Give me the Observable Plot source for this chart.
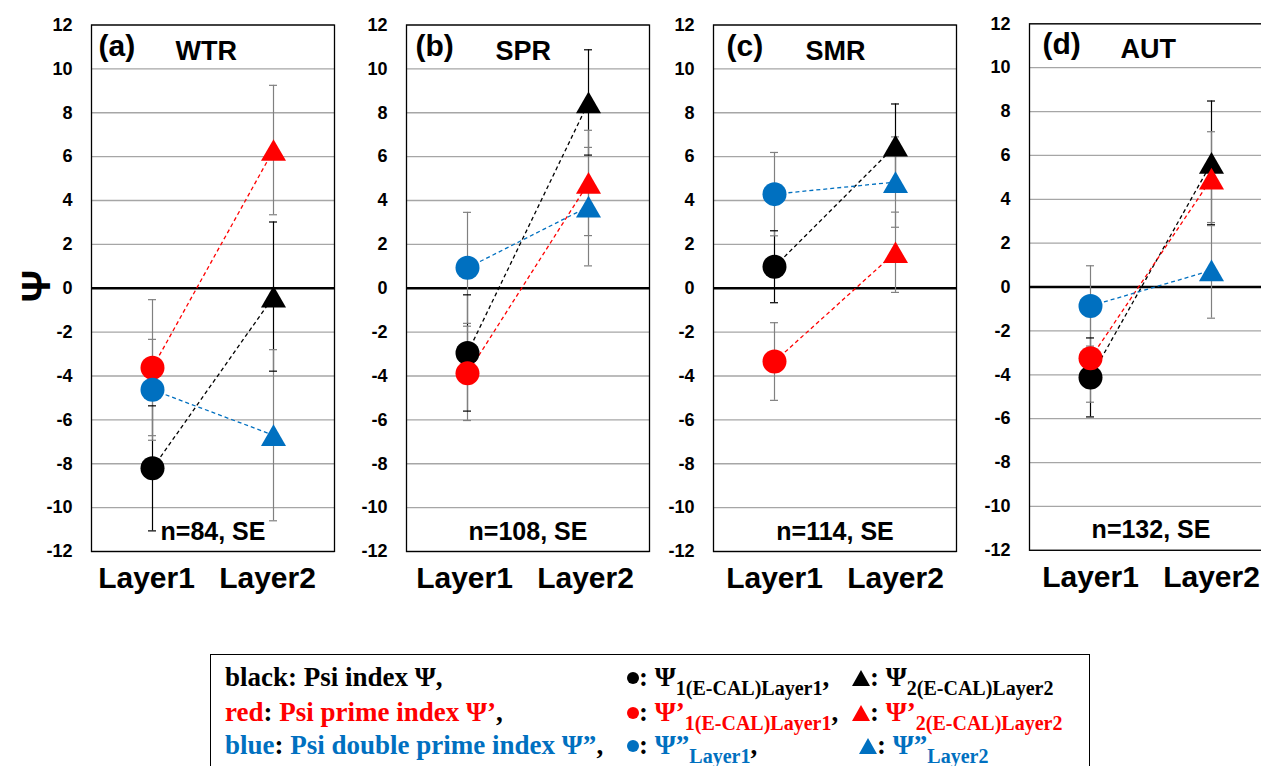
<!DOCTYPE html>
<html><head><meta charset="utf-8">
<script src="https://cdn.jsdelivr.net/npm/d3@7"></script>
<script src="https://cdn.jsdelivr.net/npm/@observablehq/plot@0.6"></script>
<style>
html,body{margin:0;padding:0;background:#fff;width:1261px;height:766px;overflow:hidden;position:relative;}
.panel{position:absolute;}
.panel svg{max-width:none !important;}
#legend{position:absolute;left:210px;top:654px;width:880px;height:140px;border:1.5px solid #000;box-sizing:border-box;font-family:"Liberation Serif","Times New Roman",serif;font-weight:bold;font-size:27px;color:#000;}
#legend .row{position:absolute;white-space:nowrap;line-height:27px;}
.r{color:#FF0000}.b{color:#0070C0}
#legend sub{font-size:20px;vertical-align:-9px;line-height:0}
.dot{display:inline-block;width:12px;height:12px;border-radius:50%;vertical-align:2px;}
.tri{display:inline-block;width:18px;height:16px;clip-path:polygon(50% 0,100% 100%,0 100%);vertical-align:0px;}
</style></head>
<body>
<div id="charts"></div>
<div id="legend">
  <div class="row" style="left:14px;top:9px">black: Psi index Ψ,</div>
  <div class="row" style="left:14px;top:44px"><span class="r">red</span>: <span class="r">Psi prime index Ψ’</span>,</div>
  <div class="row" style="left:14px;top:77px"><span class="b">blue</span>: <span class="b">Psi double prime index Ψ”</span>,</div>
  <div class="row" style="left:416px;top:9px"><span class="dot" style="background:#000"></span>: Ψ<sub>1(E-CAL)Layer1</sub>,</div>
  <div class="row" style="left:416px;top:44px"><span class="dot" style="background:#FF0000"></span>: <span class="r">Ψ’<sub>1(E-CAL)Layer1</sub></span>,</div>
  <div class="row" style="left:416px;top:77px"><span class="dot" style="background:#0070C0"></span>: <span class="b">Ψ”<sub>Layer1</sub></span>,</div>
  <div class="row" style="left:641px;top:9px"><span class="tri" style="background:#000"></span>: Ψ<sub>2(E-CAL)Layer2</sub></div>
  <div class="row" style="left:641px;top:44px"><span class="tri" style="background:#FF0000"></span>: <span class="r">Ψ’<sub>2(E-CAL)Layer2</sub></span></div>
  <div class="row" style="left:648px;top:77px"><span class="tri" style="background:#0070C0"></span>: <span class="b">Ψ”<sub>Layer2</sub></span></div>
</div>
<script>
// ---- data ----
const panelTags = ["(a)", "(b)", "(c)", "(d)"];
const seasons = ["WTR", "SPR", "SMR", "AUT"];
const sampleSizes = [84, 108, 114, 132];
const layers = ["Layer1", "Layer2"];
const seriesNames = ["black", "red", "blue"];
const yTicks = [-12, -10, -8, -6, -4, -2, 0, 2, 4, 6, 8, 10, 12];

// Psi index Ψ (black)
const psiLayer1 = [-8.21, -2.95, 0.98, -4.12];
const psiLayer2 = [-0.38, 8.47, 6.5, 5.66];
const psiErrLayer1 = [2.85, 2.65, 1.64, 1.8];
const psiErrLayer2 = [3.4, 2.4, 1.9, 2.82];
// Psi prime index Ψ' (red)
const primeLayer1 = [-3.62, -3.88, -3.34, -3.25];
const primeLayer2 = [6.3, 4.8, 1.64, 4.94];
const primeErrLayer1 = [3.1, 2.15, 1.77, 2.0];
const primeErrLayer2 = [2.95, 2.4, 1.83, 2.14];
// Psi double prime index Ψ'' (blue)
const dprimeLayer1 = [-4.63, 0.93, 4.29, -0.86];
const dprimeLayer2 = [-6.7, 3.72, 4.84, 0.76];
const dprimeErrLayer1 = [2.3, 2.53, 1.9, 1.83];
const dprimeErrLayer2 = [3.9, 2.7, 2.06, 2.18];

// ---- styling / layout ----
const fillColors = {black: "#000000", red: "#FF0000", blue: "#0070C0"};
const errColors = {black: "#000000", red: "#808080", blue: "#808080"};
const frameLeft = [91, 406.3, 713.3, 1029.3];
const frameTop = [24.5, 24.5, 24.5, 23.3];
const tagDx = [7, 9, 13, 13];
const seasonDx = [84, 89, 92, 91];
const labelDx = [-6, -3, 0, 0];
const ML = 80, FW = 243, FH = 526.5, MB = 50;

const values = {black: [psiLayer1, psiLayer2], red: [primeLayer1, primeLayer2], blue: [dprimeLayer1, dprimeLayer2]};
const errors = {black: [psiErrLayer1, psiErrLayer2], red: [primeErrLayer1, primeErrLayer2], blue: [dprimeErrLayer1, dprimeErrLayer2]};

const host = document.getElementById("charts");
panelTags.forEach((tag, i) => {
  const rows = seriesNames.flatMap(s => layers.map((l, j) => ({
    series: s, layer: l, value: values[s][j][i], err: errors[s][j][i]
  })));
  const caps = rows.flatMap(d => [
    {series: d.series, layer: d.layer, v: d.value - d.err},
    {series: d.series, layer: d.layer, v: d.value + d.err}
  ]);
  const links = seriesNames.map(s => ({series: s, l1: layers[0], l2: layers[1], v1: values[s][0][i], v2: values[s][1][i]}));
  const l1 = rows.filter(d => d.layer === "Layer1");
  const l2 = rows.filter(d => d.layer === "Layer2");
  const marks = [
    Plot.gridY({ticks: yTicks, stroke: "#a6a6a6", strokeOpacity: 1, strokeWidth: 1.3}),
    Plot.ruleY([0], {stroke: "#000", strokeWidth: 2.6}),
    Plot.ruleX(rows, {x: "layer", y1: d => d.value - d.err, y2: d => d.value + d.err, stroke: d => errColors[d.series], strokeWidth: 1.2}),
    Plot.ruleY(caps, {y: "v", x1: "layer", x2: "layer", insetLeft: -4, insetRight: -4, stroke: d => errColors[d.series], strokeWidth: 1.2}),
    Plot.link(links, {x1: "l1", x2: "l2", y1: "v1", y2: "v2", stroke: d => fillColors[d.series], strokeDasharray: "4,3", strokeWidth: 1.3}),
    Plot.dot(l1, {x: "layer", y: "value", r: 12, symbol: "circle", fill: d => fillColors[d.series]}),
    Plot.dot(l2, {x: "layer", y: "value", r: 9.3, dy: 3.6, symbol: "triangle", fill: d => fillColors[d.series]}),
    Plot.frame({stroke: "#000", strokeWidth: 1.3}),
    Plot.axisY({ticks: yTicks, tickSize: 0, tickPadding: 19, fontSize: 18, tickFormat: d => String(d), label: null}),
    Plot.axisX({tickSize: 0, tickPadding: 15, fontSize: 30, dx: labelDx[i], label: null}),
    Plot.text([tag], {frameAnchor: "top-left", dx: tagDx[i], dy: 21, textAnchor: "start", lineAnchor: "middle", fontSize: 30}),
    Plot.text([seasons[i]], {frameAnchor: "top-left", dx: seasonDx[i], dy: 26, textAnchor: "start", lineAnchor: "middle", fontSize: 27}),
    Plot.text([`n=${sampleSizes[i]}, SE`], {frameAnchor: "bottom", dy: -20, lineAnchor: "middle", fontSize: 25})
  ];
  if (i === 0) {
    marks.push(Plot.text(["Ψ"], {frameAnchor: "left", dx: -54, dy: 14, rotate: -90, fontSize: 40}));
  }
  const W = ML + FW + 2;
  const chart = Plot.plot({
    width: W,
    height: frameTop[i] + FH + MB,
    marginLeft: ML, marginRight: 2, marginTop: frameTop[i], marginBottom: MB,
    x: {type: "point", domain: layers, padding: 0.5, label: null},
    y: {domain: [-12, 12], label: null},
    color: {type: "identity"},
    style: {fontFamily: "'Liberation Sans', Arial, sans-serif", fontWeight: "bold", color: "#000", background: "transparent", overflow: "visible", maxWidth: "none"},
    marks
  });
  const wrap = document.createElement("div");
  wrap.className = "panel";
  wrap.style.left = (frameLeft[i] - ML) + "px";
  wrap.style.top = "0px";
  wrap.style.width = W + "px";
  wrap.appendChild(chart);
  host.appendChild(wrap);
});
</script>
</body></html>
